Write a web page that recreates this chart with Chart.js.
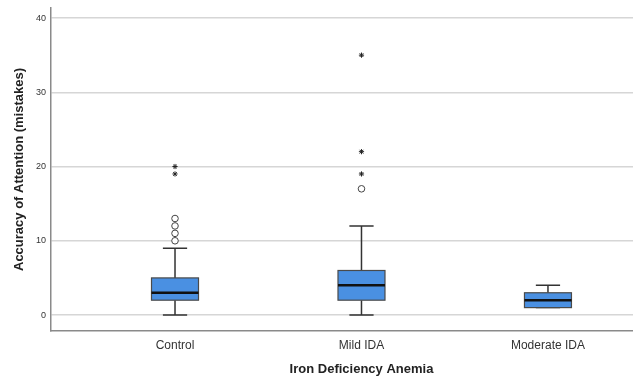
<!DOCTYPE html>
<html>
<head>
<meta charset="utf-8">
<script src="https://cdn.jsdelivr.net/npm/chart.js@4"></script>
<style>
body{margin:0;background:#fff;}
canvas{display:block;}
</style>
</head>
<body>
<canvas id="boxChart" width="633" height="380"></canvas>
<script>
// groups and their box statistics
const groups=["Control","Mild IDA","Moderate IDA"];
const whiskerLow=[0,0,1];
const q1=[2,2,1];
const median=[3,4,2];
const q3=[5,6,3];
const whiskerHigh=[9,12,4];
// outliers per group
const circleOutliers=[[10,11,12,13],[17],[]];
const starOutliers=[[19,20],[19,22,35],[]];
const yTicks=[0,10,20,30,40];
const xTitle="Iron Deficiency Anemia";

const boxWidth=0.252;
const capWidth=0.13;

function pts(list){
const out=[];
list.forEach((vals,i)=>vals.forEach(v=>out.push({x:i+1,y:v})));
return out;
}

const boxPlugin={
id:"boxes",
beforeDatasetsDraw(chart){
const ctx=chart.ctx,x=chart.scales.x,y=chart.scales.y;
ctx.save();
groups.forEach((g,i)=>{
const c=x.getPixelForValue(i+1);
const l=x.getPixelForValue(i+1-boxWidth/2),r=x.getPixelForValue(i+1+boxWidth/2);
const cl=x.getPixelForValue(i+1-capWidth/2),cr=x.getPixelForValue(i+1+capWidth/2);
const yq1=y.getPixelForValue(q1[i]),yq3=y.getPixelForValue(q3[i]);
const ylo=y.getPixelForValue(whiskerLow[i]),yhi=y.getPixelForValue(whiskerHigh[i]);
const ymed=y.getPixelForValue(median[i]);
ctx.strokeStyle="#333";
ctx.lineWidth=1.5;
// whiskers
ctx.beginPath();
ctx.moveTo(c,yq3);ctx.lineTo(c,yhi);
ctx.moveTo(cl,yhi);ctx.lineTo(cr,yhi);
ctx.moveTo(c,yq1);ctx.lineTo(c,ylo);
ctx.moveTo(cl,ylo);ctx.lineTo(cr,ylo);
ctx.stroke();
// box
ctx.fillStyle="#4a90e2";
ctx.fillRect(l,yq3,r-l,yq1-yq3);
ctx.strokeStyle="#4a4a4a";
ctx.lineWidth=1.2;
ctx.strokeRect(l,yq3,r-l,yq1-yq3);
// median
ctx.strokeStyle="#111";
ctx.lineWidth=2.5;
ctx.beginPath();
ctx.moveTo(l,ymed);ctx.lineTo(r,ymed);
ctx.stroke();
});
ctx.restore();
},
afterDraw(chart){
// SPSS centres the axis title under the middle group
const ctx=chart.ctx,x=chart.scales.x;
ctx.save();
ctx.font="bold 13px 'Liberation Sans'";
ctx.fillStyle="#222";
ctx.textAlign="center";
ctx.textBaseline="middle";
ctx.fillText(xTitle,x.getPixelForValue(2),x.bottom-11);
ctx.restore();
}
};

new Chart(document.getElementById("boxChart"),{
type:"scatter",
data:{
datasets:[
{label:"outliers",data:pts(circleOutliers),pointStyle:"circle",radius:3.3,
backgroundColor:"#fff",borderColor:"#444",borderWidth:1},
{label:"extremes",data:pts(starOutliers),pointStyle:"star",radius:2.6,
backgroundColor:"#222",borderColor:"#222",borderWidth:1}
]
},
options:{
responsive:false,
animation:false,
layout:{autoPadding:false,padding:{top:8,right:0,left:0,bottom:0}},
plugins:{legend:{display:false},tooltip:{enabled:false}},
scales:{
x:{
type:"linear",
min:0.335,max:3.456,
afterBuildTicks:s=>{s.ticks=groups.map((g,i)=>({value:i+1}));},
afterFit:s=>{s.height=49;s.paddingLeft=0;s.paddingRight=0;},
grid:{display:false,drawTicks:false},
border:{color:"#8a8a8a",width:1.5},
ticks:{callback:v=>groups[v-1],color:"#333",font:{family:"Liberation Sans",size:12},padding:7,maxRotation:0,autoSkip:false}
},
y:{
min:-2.15,max:41.35,
afterBuildTicks:s=>{s.ticks=yTicks.map(v=>({value:v}));},
afterFit:s=>{s.width=51;s.paddingTop=0;s.paddingBottom=0;},
grid:{color:"#d6d6d6",lineWidth:1.5,drawTicks:false},
border:{color:"#8a8a8a",width:1.5},
ticks:{color:"#333",font:{family:"Liberation Sans",size:9},padding:5},
title:{display:true,text:"Accuracy of Attention (mistakes)",color:"#222",font:{family:"Liberation Sans",size:13,weight:"bold"},padding:{top:12,bottom:0}}
}
}
},
plugins:[boxPlugin]
});
</script>
</body>
</html>
